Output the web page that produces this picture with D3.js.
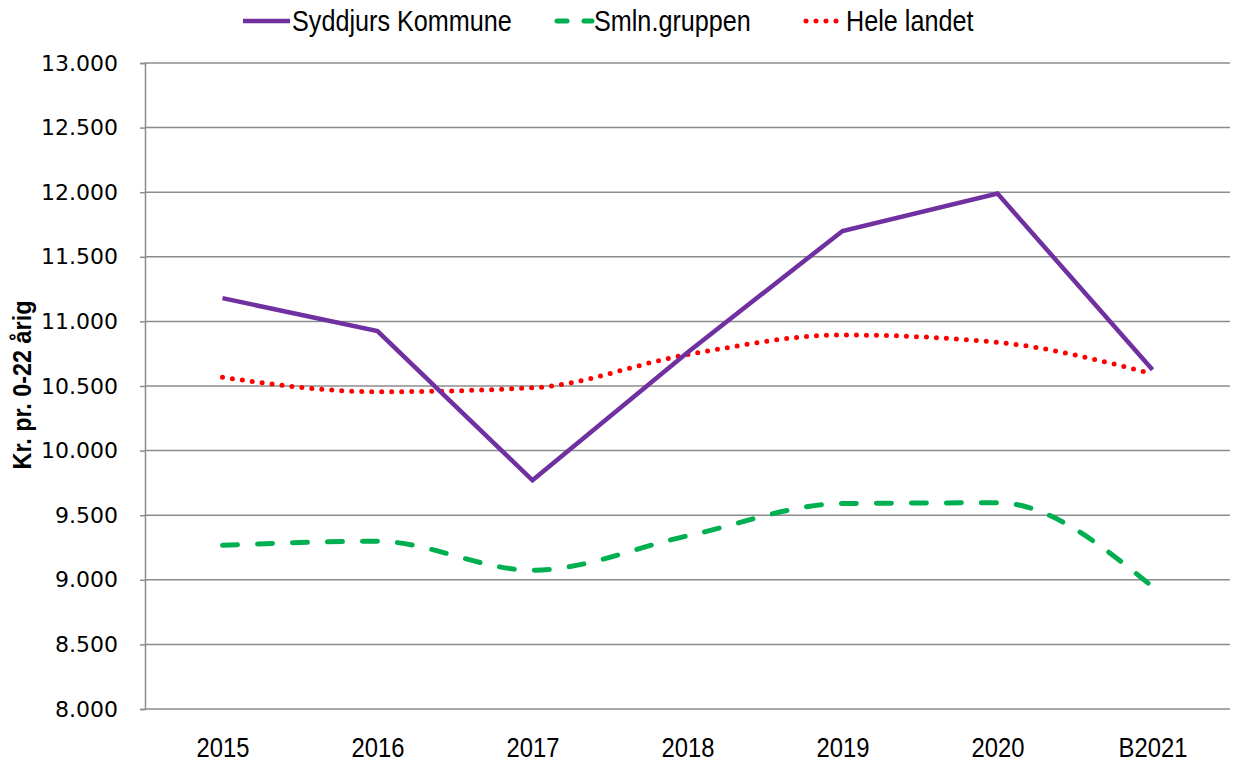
<!DOCTYPE html>
<html><head><meta charset="utf-8">
<script src="https://cdn.jsdelivr.net/npm/d3@7"></script>
<style>body{margin:0;background:#fff}</style>
</head><body>
<svg id="c" width="1233" height="764"></svg>
<script>
const categories = ["2015","2016","2017","2018","2019","2020","B2021"];
const syddjurs = [11180, 10925, 9770, 10760, 11700, 11990, 10625];
const smln = [9267, 9298, 9074, 9340, 9590, 9596, 8946];
const heleLandet = [10567, 10455, 10486, 10743, 10895, 10838, 10594];
const yTicks = [8000, 8500, 9000, 9500, 10000, 10500, 11000, 11500, 12000, 12500, 13000];
const seriesNames = ["Syddjurs Kommune", "Smln.gruppen", "Hele landet"];

const svg = d3.select("#c");
const L = 145, R = 1230, T = 63, B = 709;
const x = d3.scalePoint().domain(categories).range([L, R]).padding(0.5);
const y = d3.scaleLinear().domain([8000, 13000]).range([B, T]);
const fmt = v => d3.format(",")(v).replace(/,/g, ".");
const narrow = "'Liberation Sans', Arial, sans-serif";

// gridlines
svg.append("g").selectAll("line").data(yTicks.filter(d => d > 8000)).join("line")
  .attr("x1", L).attr("x2", R).attr("y1", d => y(d)).attr("y2", d => y(d))
  .attr("stroke", "#8c8c8c").attr("stroke-width", 1.5);

// y axis
const ya = svg.append("g").attr("transform", `translate(${L},0)`)
  .call(d3.axisLeft(y).tickValues(yTicks).tickFormat(fmt).tickSize(5).tickPadding(22));
ya.attr("font-family", null).attr("font-size", null);
ya.select(".domain").attr("stroke", "#8c8c8c").attr("stroke-width", 1.5);
ya.selectAll(".tick line").attr("stroke", "#8c8c8c").attr("stroke-width", 1.5);
ya.selectAll("text").style("font-family", "'DejaVu Sans', Verdana, sans-serif").style("font-size", "22px").attr("fill", "#000");

// x axis
const xa = svg.append("g").attr("transform", `translate(0,${B})`)
  .call(d3.axisBottom(x).tickSize(0).tickPadding(0));
xa.attr("font-family", null).attr("font-size", null);
xa.select(".domain").attr("stroke", "#8c8c8c").attr("stroke-width", 1.5).attr("d", `M${L},0H${R}`);
xa.selectAll(".tick text").attr("y", 0).attr("dy", null)
  .attr("transform", "translate(0,48) scale(0.85,1)")
  .style("font-family", narrow).style("font-size", "28px").attr("fill", "#000");

// y title
svg.append("text").attr("transform", "translate(31,385) rotate(-90) scale(0.9,1)")
  .attr("text-anchor", "middle").style("font-family", narrow).attr("font-weight", "bold")
  .style("font-size", "26px").text("Kr. pr. 0-22 årig");

const lineStraight = d3.line().x((d, i) => x(categories[i])).y(d => y(d));
const lineSmooth = d3.line().x((d, i) => x(categories[i])).y(d => y(d)).curve(d3.curveMonotoneX);

svg.append("path").attr("d", lineSmooth(heleLandet)).attr("fill", "none")
  .attr("stroke", "#ff0000").attr("stroke-width", 5).attr("stroke-linecap", "round").attr("stroke-dasharray", "0,10");
svg.append("path").attr("d", lineSmooth(smln)).attr("fill", "none")
  .attr("stroke", "#00b050").attr("stroke-width", 5).attr("stroke-linecap", "round").attr("stroke-dasharray", "15,20");
svg.append("path").attr("d", lineStraight(syddjurs)).attr("fill", "none")
  .attr("stroke", "#7030a0").attr("stroke-width", 4.5).attr("stroke-linejoin", "miter");

// legend
const leg = [
  {name: seriesNames[0], x1: 243, x2: 290, color: "#7030a0", dash: null, w: 4.5, cap: "butt"},
  {name: seriesNames[1], x1: 557, x2: 592, color: "#00b050", dash: "10,17", w: 5, cap: "round"},
  {name: seriesNames[2], x1: 806, x2: 844, color: "#ff0000", dash: "0,10", w: 5, cap: "round"}
];
const lg = svg.append("g");
leg.forEach(l => {
  lg.append("line").attr("x1", l.x1).attr("x2", l.x2).attr("y1", 21).attr("y2", 21)
    .attr("stroke", l.color).attr("stroke-width", l.w).attr("stroke-linecap", l.cap)
    .attr("stroke-dasharray", l.dash);
  lg.append("text").attr("transform", `translate(${l.x2 + 2},31) scale(0.84,1)`)
    .style("font-family", narrow).style("font-size", "30px").text(l.name);
});
</script>
</body></html>
